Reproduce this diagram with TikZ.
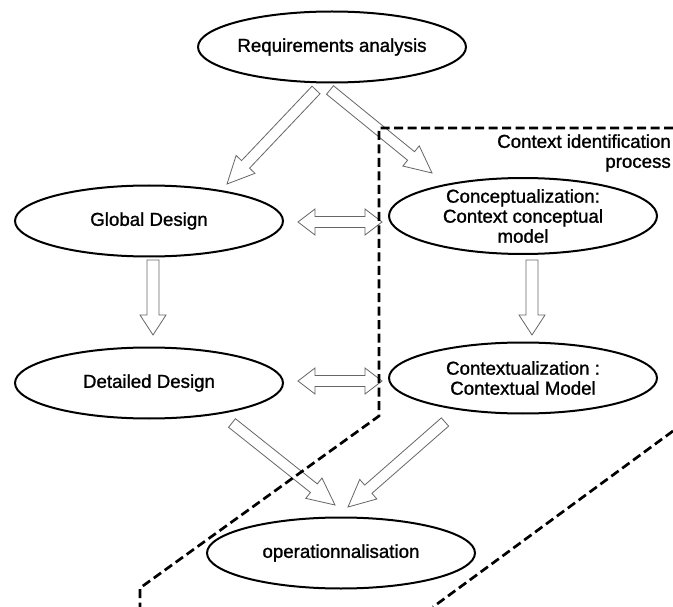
\documentclass[tikz,border=0pt]{standalone}
\usepackage{fontspec}
\setmainfont[FakeBold=1.2]{Liberation Sans}
\usetikzlibrary{shapes.geometric,calc}
\newcommand{\blockarr}[5]{%
  \coordinate (tmpm) at ($(#2)!#5!(#1)$);
  \draw[barrow] ($(#1)!#3!90:(#2)$) -- ($(tmpm)!#3!90:(#2)$) -- ($(tmpm)!#4!90:(#2)$) -- (#2)
    -- ($(tmpm)!#4!-90:(#2)$) -- ($(tmpm)!#3!-90:(#2)$) -- ($(#1)!#3!-90:(#2)$) -- cycle;
}
\newcommand{\dblarr}[5]{%
  \coordinate (tmpa) at ($(#1)!#5!(#2)$);
  \coordinate (tmpb) at ($(#2)!#5!(#1)$);
  \draw[barrow] (#1) -- ($(tmpa)!#4!90:(#2)$) -- ($(tmpa)!#3!90:(#2)$) -- ($(tmpb)!#3!90:(#2)$)
    -- ($(tmpb)!#4!90:(#2)$) -- (#2) -- ($(tmpb)!#4!-90:(#2)$) -- ($(tmpb)!#3!-90:(#2)$)
    -- ($(tmpa)!#3!-90:(#2)$) -- ($(tmpa)!#4!-90:(#2)$) -- cycle;
}
\tikzset{
  ell/.style={draw, line width=2pt, ellipse, minimum width=268pt, minimum height=71pt,
    inner sep=0pt, align=center, font=\fontsize{18.7}{20}\selectfont},
  barrow/.style={draw=black!60, fill=white, line width=0.8pt, line join=miter},
  ctxline/.style={line width=2.7pt, dash pattern=on 9pt off 4.5pt},
  lbl/.style={font=\fontsize{18.7}{20}\selectfont, align=right, inner sep=0pt}
}
\begin{document}
\begin{tikzpicture}[x=1pt,y=-1pt]
\useasboundingbox[fill=white] (0,0) rectangle (673,607);
% ellipses
\node[ell] (req)  at (332,47)  {Requirements analysis};
\node[ell] (glob) at (149,221) {Global Design};
\node[ell] (det)  at (149,383) {Detailed Design};
\node[ell] (conc) at (523,216) {Conceptualization:\\Context conceptual\\model};
\node[ell] (ctx)  at (523,378) {Contextualization :\\Contextual Model};
\node[ell] (op)   at (341,553) {operationnalisation};
\node[lbl, anchor=east] (ctxlbl) at (671,153) {Context identification\\process};
% arrow end points
\coordinate (a1s) at (316,90);  \coordinate (a1e) at (227,184);
\coordinate (a2s) at (330,90);  \coordinate (a2e) at (432,173);
\coordinate (a3s) at (153,260); \coordinate (a3e) at (153,335);
\coordinate (a4s) at (298,222); \coordinate (a4e) at (382,222);
\coordinate (a5s) at (298,381); \coordinate (a5e) at (382,381);
\coordinate (a6s) at (532,260); \coordinate (a6e) at (532,335);
\coordinate (a7s) at (232,423); \coordinate (a7e) at (335,505);
\coordinate (a8s) at (445,422); \coordinate (a8e) at (348,507);
% arrows
\blockarr{a1s}{a1e}{5.5pt}{13pt}{27pt}
\blockarr{a2s}{a2e}{5.5pt}{13pt}{27pt}
\blockarr{a3s}{a3e}{6pt}{13pt}{20pt}
\blockarr{a6s}{a6e}{6pt}{13pt}{20pt}
\blockarr{a7s}{a7e}{5.5pt}{13pt}{27pt}
\blockarr{a8s}{a8e}{5.5pt}{13pt}{27pt}
\dblarr{a4s}{a4e}{5.5pt}{13pt}{17pt}
\dblarr{a5s}{a5e}{5.5pt}{13pt}{17pt}
% context boundary
\coordinate (c1) at (673,128);
\coordinate (c2) at (379,128);
\coordinate (c3) at (379,416);
\coordinate (c4) at (140,588);
\coordinate (c5) at (140,607);
\coordinate (d1) at (673,431);
\coordinate (d2) at (433,607);
\draw[ctxline] (c1) -- (c2) -- (c3) -- (c4) -- (c5);
\draw[ctxline] (d1) -- (d2);
\end{tikzpicture}
\end{document}
